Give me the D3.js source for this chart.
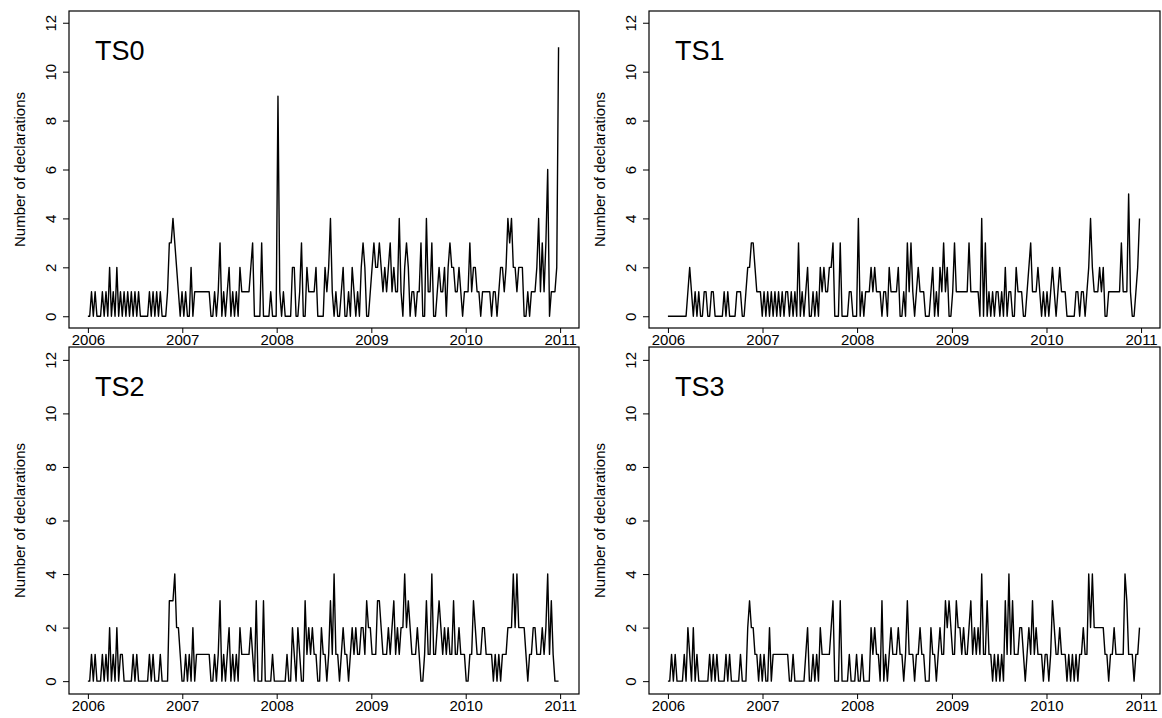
<!DOCTYPE html>
<html>
<head>
<meta charset="utf-8">
<script src="https://cdn.jsdelivr.net/npm/d3@7"></script>
<style>
  body { margin: 0; background: #fff; }
  svg { display: block; }
  text { font-family: "Liberation Sans", Arial, sans-serif; fill: #000; }
</style>
</head>
<body>
<div id="chart"></div>
<script>
// weekly counts, first week starting 2006-01-01
var ts0 = [
  0,0,1,0,1,0,0,0,1,0,1,0,2,
  0,1,0,2,0,1,0,1,0,1,0,1,0,
  1,0,1,0,0,0,0,0,1,0,1,0,1,
  0,1,0,0,0,1,3,3,4,3,2,1,0,
  1,0,1,0,0,2,0,1,1,1,1,1,1,
  1,1,1,0,0,1,0,1,3,0,1,0,1,
  2,0,1,0,1,0,2,1,1,1,1,1,2,
  3,0,0,0,0,3,0,0,0,0,1,0,0,
  0,9,1,0,1,0,0,0,0,2,2,0,0,
  1,3,0,0,2,1,1,1,1,2,0,0,0,
  0,2,1,2,4,1,0,1,0,0,1,2,0,
  0,1,0,2,1,0,1,0,2,3,2,0,0,
  1,2,3,2,2,3,2,1,2,1,2,3,1,
  2,1,1,4,1,0,2,3,2,0,1,1,0,
  1,1,3,0,0,4,1,1,3,0,0,1,2,
  1,1,2,0,2,3,2,2,1,1,2,1,0,
  1,1,1,3,1,2,2,1,1,0,1,1,1,
  1,1,0,1,1,0,1,2,2,1,2,4,3,
  4,2,2,1,2,2,2,0,0,1,0,1,1,
  1,2,4,1,3,1,3,6,0,1,1,1,2,
  11
];
var ts1 = [
  0,0,0,0,0,0,0,0,0,0,0,1,2,
  1,0,1,0,1,0,0,1,1,0,0,1,1,
  0,0,0,0,0,1,0,1,0,0,0,0,1,
  1,1,0,0,1,2,2,3,3,2,1,1,1,
  0,1,0,1,0,1,0,1,0,1,0,1,0,
  1,1,0,1,0,1,0,3,0,1,0,1,2,
  0,0,1,0,1,0,2,1,2,1,1,2,2,
  3,0,0,0,3,0,0,0,0,1,1,0,0,
  0,4,0,1,0,1,1,1,2,1,2,1,1,
  1,0,1,1,0,2,1,1,1,1,2,0,0,
  1,0,3,1,3,1,0,1,2,1,1,1,0,
  0,0,1,2,0,1,0,2,1,3,1,2,0,
  0,1,3,1,1,1,1,1,1,1,3,1,1,
  1,1,1,0,4,0,3,0,1,0,1,0,1,
  1,0,1,0,2,0,1,1,0,0,2,1,1,
  1,0,0,1,2,3,1,1,1,2,1,0,1,
  0,1,0,1,2,1,0,1,2,1,1,1,0,
  0,0,0,0,1,1,0,1,1,0,1,2,4,
  2,1,1,1,2,1,2,0,0,1,1,1,1,
  1,1,1,3,1,1,1,5,1,0,0,1,2,
  4
];
var ts2 = [
  0,0,1,0,1,0,0,0,1,0,1,0,2,
  0,1,0,2,0,1,1,0,0,0,0,0,1,
  0,1,0,0,0,0,0,0,1,0,1,0,0,
  0,1,0,0,0,0,3,3,3,4,2,2,1,
  0,0,1,0,1,0,2,0,1,1,1,1,1,
  1,1,1,0,0,1,0,1,3,0,1,0,1,
  2,0,1,0,1,0,2,1,1,1,1,1,2,
  1,0,3,0,0,0,3,0,0,0,0,1,0,
  0,0,0,0,0,0,1,0,0,2,1,0,2,
  1,0,0,3,1,2,1,2,1,1,0,0,2,
  1,1,0,1,3,1,4,1,1,0,1,2,1,
  1,0,1,2,1,2,1,1,2,2,1,3,2,
  2,1,1,1,3,3,2,1,1,1,2,1,2,
  3,1,2,1,2,2,4,2,3,2,1,1,1,
  2,1,0,0,1,3,1,1,4,1,1,2,3,
  2,1,2,1,2,1,1,3,1,1,2,1,1,
  1,0,0,1,1,3,2,1,1,1,2,2,1,
  1,1,1,0,1,0,1,0,1,1,1,2,2,
  2,4,2,4,2,2,2,2,1,0,1,1,2,
  2,1,1,1,2,1,2,4,1,3,1,0,0,
  0
];
var ts3 = [
  0,0,1,0,1,0,0,0,0,1,0,2,1,
  0,2,0,1,0,0,0,0,0,0,1,0,1,
  0,1,0,0,0,0,1,0,1,0,0,0,0,
  0,1,0,0,0,2,3,2,2,1,1,0,1,
  0,1,0,0,2,0,1,1,1,1,1,1,1,
  1,1,0,0,1,0,0,0,0,0,0,1,2,
  0,0,1,0,1,0,2,1,1,1,1,1,2,
  3,0,0,0,3,0,0,0,0,1,0,0,0,
  1,0,0,1,0,0,0,0,2,1,2,1,1,
  0,3,0,1,0,1,2,1,1,1,2,1,1,
  0,1,3,1,1,1,0,1,1,2,1,1,0,
  0,0,2,1,1,0,1,2,1,1,3,2,3,
  2,1,1,3,2,2,1,2,1,1,2,3,1,
  2,1,2,1,4,1,1,3,1,1,0,1,0,
  1,0,1,0,3,1,4,1,3,1,1,1,2,
  2,1,0,1,2,1,3,1,2,1,1,1,0,
  1,1,0,1,3,2,1,1,2,1,1,1,0,
  1,0,1,0,1,0,1,1,2,1,1,4,2,
  4,2,2,2,2,2,2,1,1,0,1,1,2,
  1,1,1,1,1,4,3,1,1,1,0,1,1,
  2
];
var seriesNames = ["TS0", "TS1", "TS2", "TS3"];
var yTicks = [0, 2, 4, 6, 8, 10, 12];
var yearTicks = [2006, 2007, 2008, 2009, 2010, 2011];
var startDate = new Date(2006, 0, 1);

var W = 1162, H = 718;
var svg = d3.select("#chart").append("svg").attr("width", W).attr("height", H);

// plot boxes
var panels = [
  { name: seriesNames[0], values: ts0, x0: 69,  x1: 579,  y0: 11,  y1: 328 },
  { name: seriesNames[1], values: ts1, x0: 649, x1: 1160, y0: 11,  y1: 328 },
  { name: seriesNames[2], values: ts2, x0: 69,  x1: 579,  y0: 347, y1: 694 },
  { name: seriesNames[3], values: ts3, x0: 649, x1: 1160, y0: 347, y1: 694 }
];

panels.forEach(function(p) {
  var data = p.values.map(function(v, i) {
    return { date: d3.timeDay.offset(startDate, 7 * i), value: v };
  });

  var t0 = new Date(2006, 0, 1), t1 = new Date(2011, 0, 1);
  var pad = (t1 - t0) * 0.04;
  var x = d3.scaleTime()
    .domain([new Date(+t0 - pad), new Date(+t1 + pad)])
    .range([p.x0, p.x1]);
  var y = d3.scaleLinear()
    .domain([-0.48, 12.48])
    .range([p.y1, p.y0]);

  var g = svg.append("g");

  // y axis, labels rotated as in R
  var ya = g.append("g")
    .attr("transform", "translate(" + p.x0 + ",0)")
    .call(d3.axisLeft(y).tickValues(yTicks).tickSize(6).tickFormat(d3.format("d")));
  ya.select(".domain").remove();
  ya.selectAll("line").attr("stroke", "#000").attr("stroke-width", 1);
  ya.selectAll("text")
    .attr("transform", "rotate(-90)")
    .attr("x", 0).attr("y", -13).attr("dy", 0)
    .attr("text-anchor", "middle")
    .style("font-size", "15px");

  // x axis
  var xa = g.append("g")
    .attr("transform", "translate(0," + p.y1 + ")")
    .call(d3.axisBottom(x)
      .tickValues(yearTicks.map(function(yr) { return new Date(yr, 0, 1); }))
      .tickSize(5)
      .tickFormat(d3.timeFormat("%Y")));
  xa.select(".domain").remove();
  xa.selectAll("line").attr("stroke", "#000").attr("stroke-width", 1);
  xa.selectAll("text").attr("y", 6).attr("dy", "0.71em").style("font-size", "15px");

  // series
  g.append("path")
    .datum(data)
    .attr("fill", "none")
    .attr("stroke", "#000")
    .attr("stroke-width", 1.4)
    .attr("stroke-linejoin", "round")
    .attr("d", d3.line()
      .x(function(d) { return x(d.date); })
      .y(function(d) { return y(d.value); }));

  // box
  g.append("rect")
    .attr("x", p.x0).attr("y", p.y0)
    .attr("width", p.x1 - p.x0).attr("height", p.y1 - p.y0)
    .attr("fill", "none").attr("stroke", "#000").attr("stroke-width", 1.2);

  // axis title
  g.append("text")
    .attr("transform", "translate(" + (p.x0 - 44) + "," + ((p.y0 + p.y1) / 2) + ") rotate(-90)")
    .attr("text-anchor", "middle")
    .style("font-size", "15px")
    .text("Number of declarations");

  // panel label
  g.append("text")
    .attr("x", p.x0 + 26).attr("y", p.y0 + 49)
    .style("font-size", "27px")
    .text(p.name);
});
</script>
</body>
</html>
